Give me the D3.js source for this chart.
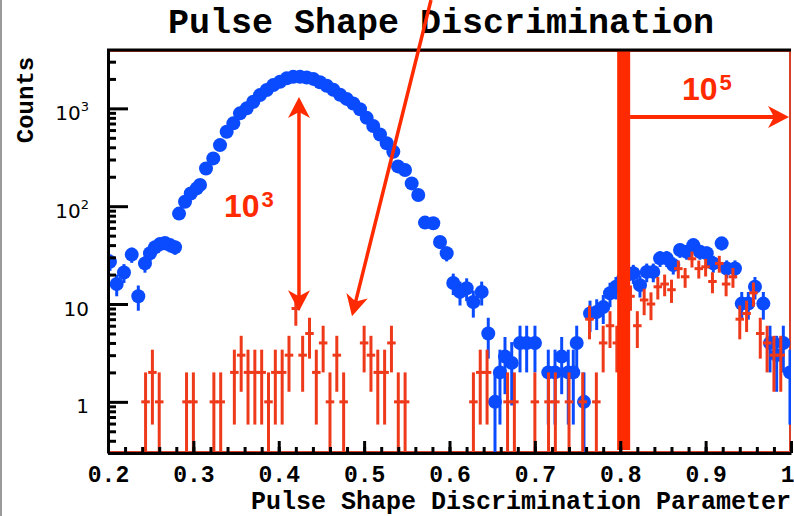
<!DOCTYPE html>
<html>
<head>
<meta charset="utf-8">
<script src="https://cdn.jsdelivr.net/npm/d3@7"></script>
<style>
  body { margin: 0; background: #fff; }
  svg { display: block; }
</style>
</head>
<body>
<svg id="chart" width="794" height="516"></svg>
<script>
const WIDTH = 794, HEIGHT = 516;

// blue sample (all events): PSD parameter and counts
const blueX = [0.2023,0.2102,0.2187,0.2278,0.2355,0.2433,0.2492,0.2551,0.2609,0.2668,0.2726,0.2785,
  0.2832,0.2902,0.2969,0.3039,0.3078,0.3148,0.3233,0.3312,0.3390,0.3468,0.3546,0.3625,0.3702,0.3780,
  0.3859,0.3936,0.4015,0.4093,0.4170,0.4249,0.4327,0.4405,0.4483,0.4562,0.4639,0.4718,0.4796,0.4873,
  0.4952,0.5030,0.5107,0.5186,0.5264,0.5342,0.5397,0.5479,0.5557,0.5634,0.5713,0.5810,0.5889,0.5967,
  0.6044,0.6123,0.6201,0.6279,0.6377,0.6454,0.6533,0.6591,0.6650,0.6729,0.6826,0.6904,0.7001,0.7157,
  0.7236,0.7314,0.7391,0.7450,0.7490,0.7575,0.7646,0.7724,0.7801,0.7880,0.7950,0.8032,0.8091,0.8153,
  0.8231,0.8310,0.8387,0.8466,0.8544,0.8621,0.8700,0.8778,0.8856,0.8934,0.9013,0.9090,0.9188,0.9247,
  0.9344,0.9423,0.9500,0.9578,0.9676,0.9754,0.9832,0.9910,0.9988];
const blueY = [27,16,21,32,12,26,33,38,41,42,40,38,
  84,111,135,152,165,243,308,421,576,703,889,1000,1167,1367,
  1538,1729,1870,2027,2100,2100,2070,2000,1850,1700,1550,1380,1250,1120,
  980,800,660,540,440,360,255,234,171,130,68,67,43,33,
  16.4,13.3,14.5,10.5,13.3,5.0,1.0,2.0,2.9,2.5,4,4,4,2,
  2,2.9,2,2,4,1,8,8.3,9.3,12.9,15,18,20,20.6,
  15.6,21.3,21.3,29.3,29.3,25,35.6,34.2,40,34.2,33,26,41.7,23.1,
  23.1,10.1,10.1,15,10.1,4,3,4,2];

// red sample (selected events): bin centres and counts
const redX = [0.244,0.252,0.260,0.292,0.300,0.324,0.332,0.348,0.356,0.364,0.372,0.380,0.388,0.396,
  0.404,0.412,0.420,0.428,0.436,0.444,0.452,0.460,0.468,0.476,0.500,0.508,0.516,0.524,0.532,0.540,
  0.548,0.628,0.636,0.644,0.668,0.676,0.700,0.716,0.724,0.740,0.756,0.764,0.772,0.780,0.788,0.796,
  0.804,0.812,0.820,0.828,0.836,0.844,0.852,0.860,0.868,0.876,0.884,0.892,0.900,0.908,0.916,0.924,
  0.932,0.940,0.948,0.956,0.964,0.972,0.980,0.988];
const redY = [1,2,1,1,1,1,1,2,3,2,2,2,1,2,
  2,3,9,3,5,2,4,1,3,1,4,3,2,2,4,1,
  1,1,2,2,1,1,1,1,1,1,1,7,1,4,6,4,
  10,12,6,11,10,15,16,14,23,19,29,23,24,17,26,16,
  19,7,8,13,5,4,3,3];

const xTicks = [0.2,0.3,0.4,0.5,0.6,0.7,0.8,0.9,1.0];
const yTicks = [1,10,100,1000];
const yTickBase = ['1','10','10','10'];
const yTickExp = ['','','2','3'];

// annotations (data coordinates)
const cutX = 0.804;
const ratioArrow = {x: 0.4237, top: 1305, bottom: 8.46};
const slantArrow = {x1: 0.5783, y1: 12800, x2: 0.4858, y2: 7.52};
const passArrow = {x1: 0.8115, x2: 0.9977, y: 815};

const BLUE = '#0a4bff', RED = '#ee3a1a', ANNO = '#ff2a00';

const svg = d3.select('#chart');
svg.append('rect').attr('width', WIDTH).attr('height', HEIGHT).attr('fill', '#fff');
svg.append('line').attr('x1', 1).attr('x2', 1).attr('y1', 0).attr('y2', HEIGHT)
  .attr('stroke', '#9a9a9a').attr('stroke-width', 2);

const x = d3.scaleLinear().domain([0.2, 1.0]).range([108, 791]);
const y = d3.scaleLog().domain([0.3, 3950]).range([453, 50]);
const yFloor = v => y(Math.max(v, 0.3));

svg.append('clipPath').attr('id', 'plot').append('rect')
  .attr('x', 108).attr('y', 50).attr('width', 683).attr('height', 403);

// red frame
svg.append('rect').attr('x', 109).attr('y', 51).attr('width', 681).attr('height', 401)
  .attr('fill', 'none').attr('stroke', '#d8402a').attr('stroke-width', 2);

const data = svg.append('g').attr('clip-path', 'url(#plot)');

// blue points with error bars
const blue = blueX.map((v, i) => ({x: v, y: blueY[i]}));
data.append('g').selectAll('line').data(blue).enter().append('line')
  .attr('x1', d => x(d.x)).attr('x2', d => x(d.x))
  .attr('y1', d => y(d.y + Math.sqrt(d.y)))
  .attr('y2', d => yFloor(d.y - Math.sqrt(d.y)))
  .attr('stroke', BLUE).attr('stroke-width', 3);
data.append('g').selectAll('circle').data(blue).enter().append('circle')
  .attr('cx', d => x(d.x)).attr('cy', d => y(d.y)).attr('r', 7)
  .attr('fill', BLUE);

// red crosses with error bars
const red = redX.map((v, i) => ({x: v, y: redY[i]}));
const redG = data.append('g').attr('stroke', RED).attr('stroke-width', 3);
redG.selectAll('.ey').data(red).enter().append('line').attr('class', 'ey')
  .attr('x1', d => x(d.x)).attr('x2', d => x(d.x))
  .attr('y1', d => y(d.y + Math.sqrt(d.y)))
  .attr('y2', d => yFloor(d.y - Math.sqrt(d.y)));
redG.selectAll('.ex').data(red).enter().append('line').attr('class', 'ex')
  .attr('x1', d => x(d.x - 0.005)).attr('x2', d => x(d.x + 0.005))
  .attr('y1', d => y(d.y)).attr('y2', d => y(d.y));

// cut line
svg.append('rect').attr('x', x(cutX) - 6.5).attr('y', 50).attr('width', 13).attr('height', 400)
  .attr('fill', ANNO);

// axes
const fontMono = "'Courier New', 'Liberation Mono', monospace";
const fontSans = "'DejaVu Sans', Verdana, sans-serif";

const gy = svg.append('g').attr('transform', 'translate(108,0)')
  .call(d3.axisLeft(y).tickValues(yTicks).tickSize(-20).tickSizeOuter(0).tickPadding(19));
const minorY = [];
[-1, 0, 1, 2, 3].forEach(e => { for (let m = 2; m < 10; m++) { const v = m * Math.pow(10, e); if (v > 0.3 && v < 3950) minorY.push(v); } });
const gy2 = svg.append('g').attr('transform', 'translate(108,0)')
  .call(d3.axisLeft(y).tickValues(minorY).tickSize(-8).tickFormat(''));
gy2.select('.domain').remove();

const gx = svg.append('g').attr('transform', 'translate(0,453)')
  .call(d3.axisBottom(x).tickValues(xTicks).tickSize(-12).tickSizeOuter(0).tickPadding(13)
    .tickFormat(d => d === 1 ? '1' : d.toFixed(1)));
const gx2 = svg.append('g').attr('transform', 'translate(0,453)')
  .call(d3.axisBottom(x).tickValues(d3.range(0.22, 1.0, 0.02)).tickSize(-6).tickFormat(''));
gx2.select('.domain').remove();

[gy, gy2, gx, gx2].forEach(g => {
  g.selectAll('line').attr('stroke', '#000').attr('stroke-width', 3);
  g.select('.domain').attr('stroke', '#000').attr('stroke-width', 3);
});
gx.selectAll('text').attr('font-family', fontMono).attr('font-weight', 'bold')
  .attr('font-size', 23).attr('fill', '#000');
gx.selectAll('text').filter(d => d === 1).attr('text-anchor', 'end').attr('x', 3);
gy.selectAll('text').each(function (d, i) {
  const t = d3.select(this).text(yTickBase[i]).attr('dy', '0.55em')
    .attr('font-family', fontSans).attr('font-size', 20).attr('fill', '#000');
  if (yTickExp[i]) t.append('tspan').attr('dy', -9).attr('font-size', 13).text(yTickExp[i]);
});

svg.append('line').attr('x1', 107).attr('x2', 791).attr('y1', 50).attr('y2', 50)
  .attr('stroke', '#000').attr('stroke-width', 3);

// titles
svg.append('text').attr('x', 441).attr('y', 33).attr('text-anchor', 'middle')
  .attr('font-family', fontMono).attr('font-weight', 'bold').attr('font-size', 35)
  .text('Pulse Shape Discrimination');
svg.append('text').attr('transform', 'translate(33,100) rotate(-90)').attr('text-anchor', 'middle')
  .attr('font-family', fontMono).attr('font-weight', 'bold').attr('font-size', 24)
  .text('Counts');
svg.append('text').attr('x', 791).attr('y', 509).attr('text-anchor', 'end')
  .attr('font-family', fontMono).attr('font-weight', 'bold').attr('font-size', 25)
  .text('Pulse Shape Discrimination Parameter');

// arrows
const anno = svg.append('g');
function arrowHead(tx, ty, ux, uy) {
  const L = 21, W = 11, N = 6;
  const nx = -uy, ny = ux;
  const pts = [[tx, ty],
    [tx - ux * L + nx * W, ty - uy * L + ny * W],
    [tx - ux * (L - N), ty - uy * (L - N)],
    [tx - ux * L - nx * W, ty - uy * L - ny * W]];
  anno.append('path').attr('d', 'M' + pts.map(p => p.join(',')).join('L') + 'Z').attr('fill', ANNO);
}
function arrow(x1, y1, x2, y2, both, w) {
  const dx = x2 - x1, dy = y2 - y1, len = Math.hypot(dx, dy);
  const ux = dx / len, uy = dy / len;
  const s = both ? 10 : 0;
  anno.append('line').attr('x1', x1 + ux * s).attr('y1', y1 + uy * s)
    .attr('x2', x2 - ux * 10).attr('y2', y2 - uy * 10)
    .attr('stroke', ANNO).attr('stroke-width', w);
  arrowHead(x2, y2, ux, uy);
  if (both) arrowHead(x1, y1, -ux, -uy);
}
arrow(x(ratioArrow.x), y(ratioArrow.top), x(ratioArrow.x), y(ratioArrow.bottom), true, 3.5);
arrow(x(slantArrow.x1), y(slantArrow.y1), x(slantArrow.x2), y(slantArrow.y2), false, 3.5);
arrow(x(passArrow.x1), y(passArrow.y), x(passArrow.x2), y(passArrow.y), false, 4);

function powLabel(xv, yv, base, exp) {
  const t = anno.append('text').attr('x', x(xv)).attr('y', y(yv))
    .attr('font-family', "'Liberation Sans', Arial, sans-serif").attr('font-weight', 'bold')
    .attr('font-size', 32).attr('fill', ANNO).text(base);
  t.append('tspan').attr('dx', 2).attr('dy', -10).attr('font-size', 22).text(exp);
}
powLabel(0.3359, 77.4, '10', '3');
powLabel(0.8723, 1216, '10', '5');
</script>
</body>
</html>
